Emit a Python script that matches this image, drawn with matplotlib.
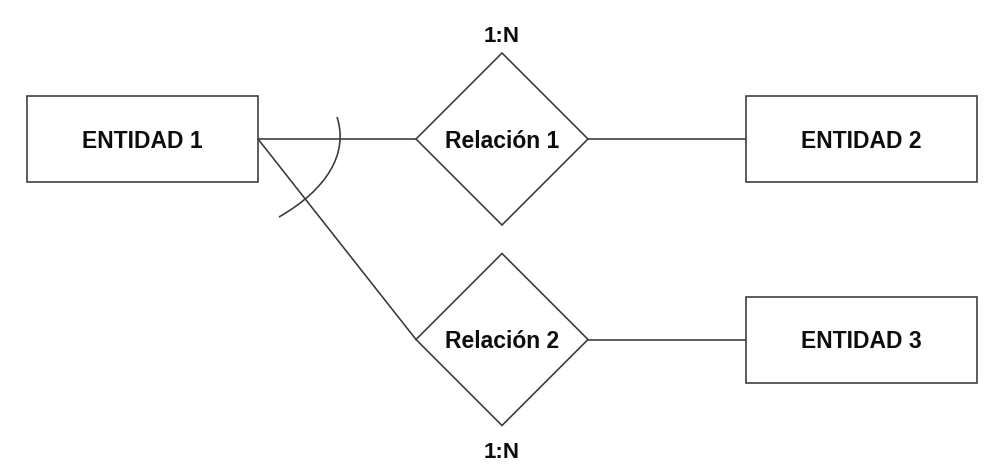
import matplotlib
matplotlib.use("Agg")
import matplotlib.pyplot as plt
from matplotlib.patches import Rectangle, Polygon, PathPatch
from matplotlib.path import Path

plt.rcParams['font.family'] = ['Liberation Sans', 'DejaVu Sans']

# Diagram content
entities = ["ENTIDAD 1", "ENTIDAD 2", "ENTIDAD 3"]
relations = ["Relación 1", "Relación 2"]
cardinalities = ["1:N", "1:N"]

# Layout (pixel coords, y downward)
W, H = 1008, 474
ent_w, ent_h = 231, 86
ent_centers = [(142.5, 139), (861.5, 139), (861.5, 339.5)]
rel_half_w, rel_half_h = 86, 86
rel_centers = [(502, 139), (502, 339.5)]
card_y = [36, 452]
text_dy = 2.5  # text sits a bit below the shape centre

edge = '#383838'
lw = 1.15

fig = plt.figure(figsize=(W / 100, H / 100), dpi=100)
ax = fig.add_axes([0, 0, 1, 1])
ax.set_xlim(0, W)
ax.set_ylim(H, 0)
ax.axis('off')

# entities
for name, (cx, cy) in zip(entities, ent_centers):
    ax.add_patch(Rectangle((cx - ent_w / 2, cy - ent_h / 2), ent_w, ent_h,
                           fc='white', ec=edge, lw=lw, zorder=2))
    ax.text(cx, cy + text_dy, name, ha='center', va='center', fontsize=16.5,
            fontweight='bold', color='#0d0d0d', zorder=3)

# relations (diamonds)
for name, (cx, cy) in zip(relations, rel_centers):
    pts = [(cx - rel_half_w, cy), (cx, cy - rel_half_h),
           (cx + rel_half_w, cy), (cx, cy + rel_half_h)]
    ax.add_patch(Polygon(pts, closed=True, fc='white', ec=edge, lw=lw, zorder=2))
    ax.text(cx, cy + text_dy, name, ha='center', va='center', fontsize=16.5,
            fontweight='bold', color='#0d0d0d', zorder=3)

for lab, (cx, _), y in zip(cardinalities, rel_centers, card_y):
    ax.text(cx, y, lab, ha='center', va='center', fontsize=16,
            fontweight='bold', color='#0d0d0d')

# connectors
e1_right = (ent_centers[0][0] + ent_w / 2, ent_centers[0][1])
for (rx, ry) in rel_centers:
    ax.plot([e1_right[0], rx - rel_half_w], [e1_right[1], ry],
            color=edge, lw=lw, zorder=1)
for (rx, ry), (ex, ey) in zip(rel_centers, ent_centers[1:]):
    ax.plot([rx + rel_half_w, ex - ent_w / 2], [ry, ey],
            color=edge, lw=lw, zorder=1)

# exclusivity arc across both links
arc = Path([(337, 117), (349, 154), (326, 190), (279, 217)],
           [Path.MOVETO, Path.CURVE4, Path.CURVE4, Path.CURVE4])
ax.add_patch(PathPatch(arc, fc='none', ec=edge, lw=lw, zorder=1))

fig.savefig("out.png", dpi=100, facecolor='white')
